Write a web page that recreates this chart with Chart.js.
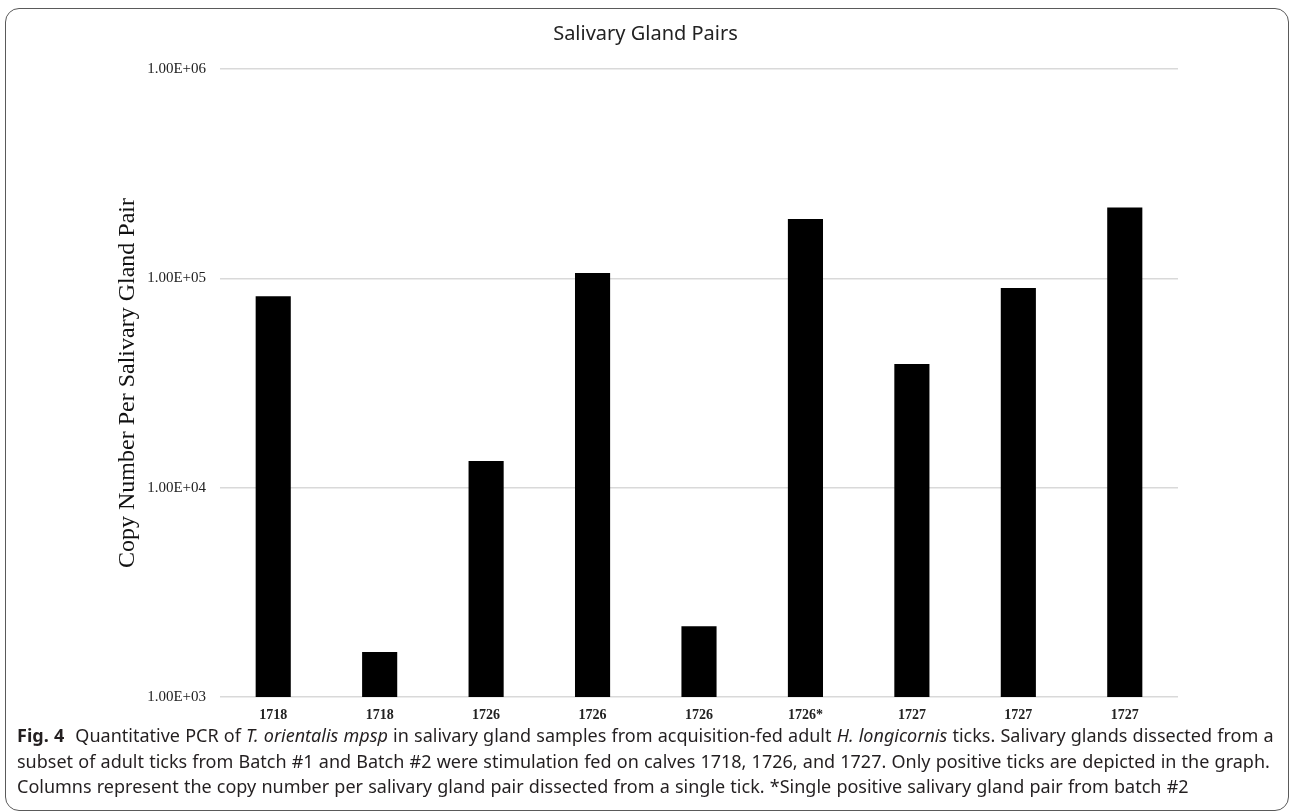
<!DOCTYPE html>
<html>
<head>
<meta charset="utf-8">
<script src="https://cdn.jsdelivr.net/npm/chart.js@4.4.1/dist/chart.umd.min.js"></script>
<style>
  html, body { margin: 0; padding: 0; background: #fff; }
  body { width: 1290px; height: 811px; position: relative; overflow: hidden; }
  .frame {
    position: absolute; left: 5px; top: 8px; width: 1284px; height: 803px;
    border: 1.5px solid #5a5a5a; border-radius: 14px; box-sizing: border-box;
  }
  #wrap { position: absolute; left: 0; top: 0; width: 1290px; height: 725px; }
  .caption {
    position: absolute; left: 17px; top: 723px;
    font-family: "Noto Sans", sans-serif; font-size: 18px; line-height: 25.5px;
    color: #231f20; white-space: nowrap; word-spacing: 0.5px;
  }
  .caption b { font-weight: 700; margin-right: 6px; }
</style>
</head>
<body>
<div class="frame"></div>
<div id="wrap"><canvas id="glandChart" width="1290" height="725"></canvas></div>
<div class="caption">
  <div><b>Fig. 4</b> Quantitative PCR of <i>T. orientalis mpsp</i> in salivary gland samples from acquisition-fed adult <i>H. longicornis</i> ticks. Salivary glands dissected from a</div>
  <div>subset of adult ticks from Batch #1 and Batch #2 were stimulation fed on calves 1718, 1726, and 1727. Only positive ticks are depicted in the graph.</div>
  <div>Columns represent the copy number per salivary gland pair dissected from a single tick. *Single positive salivary gland pair from batch #2</div>
</div>
<script>
// Salivary gland pair copy numbers (log scale)
const categories = ['1718', '1718', '1726', '1726', '1726', '1726*', '1727', '1727', '1727'];
const copyNumbers = [82000, 1640, 13400, 106000, 2180, 192000, 39000, 90000, 218000];
const yTickValues = [1e3, 1e4, 1e5, 1e6];
const yTickLabels = ['1.00E+03', '1.00E+04', '1.00E+05', '1.00E+06'];

const ctx = document.getElementById('glandChart').getContext('2d');
new Chart(ctx, {
    type: 'bar',
    data: {
        labels: categories,
        datasets: [{
            data: copyNumbers,
            backgroundColor: '#000000',
            borderWidth: 0,
            categoryPercentage: 1,
            barPercentage: 0.33
        }]
    },
    options: {
        responsive: false,
        animation: false,
        devicePixelRatio: 1,
        layout: { padding: { left: 113, right: 112, top: 0, bottom: 0 } },
        plugins: {
            legend: { display: false },
            tooltip: { enabled: false },
            title: {
                display: true,
                text: 'Salivary Gland Pairs',
                color: '#222',
                font: { family: '"Noto Sans", sans-serif', size: 20, weight: 'normal' },
                padding: { top: 22, bottom: 23 }
            }
        },
        scales: {
            x: {
                grid: { display: false, drawTicks: false },
                border: { display: false },
                ticks: {
                    color: '#222',
                    padding: 10,
                    font: { family: '"Liberation Serif", serif', size: 14, weight: 'bold' }
                },
                afterFit: function(scale) { scale.height = 28; }
            },
            y: {
                type: 'logarithmic',
                min: 1000,
                max: 1000000,
                grid: { color: '#d9d9d9', lineWidth: 1.5, drawTicks: false },
                border: { display: false },
                afterBuildTicks: function(scale) {
                    scale.ticks = yTickValues.map(v => ({ value: v }));
                },
                ticks: {
                    color: '#222',
                    padding: 14,
                    font: { family: '"Liberation Serif", serif', size: 15 },
                    callback: function(value) {
                        const i = yTickValues.indexOf(value);
                        return i >= 0 ? yTickLabels[i] : '';
                    }
                },
                title: {
                    display: true,
                    text: 'Copy Number Per Salivary Gland Pair',
                    color: '#111',
                    padding: 0,
                    font: { family: '"Liberation Serif", serif', size: 24 }
                },
                afterFit: function(scale) { scale.width = 107; }
            }
        }
    }
});
</script>
</body>
</html>
